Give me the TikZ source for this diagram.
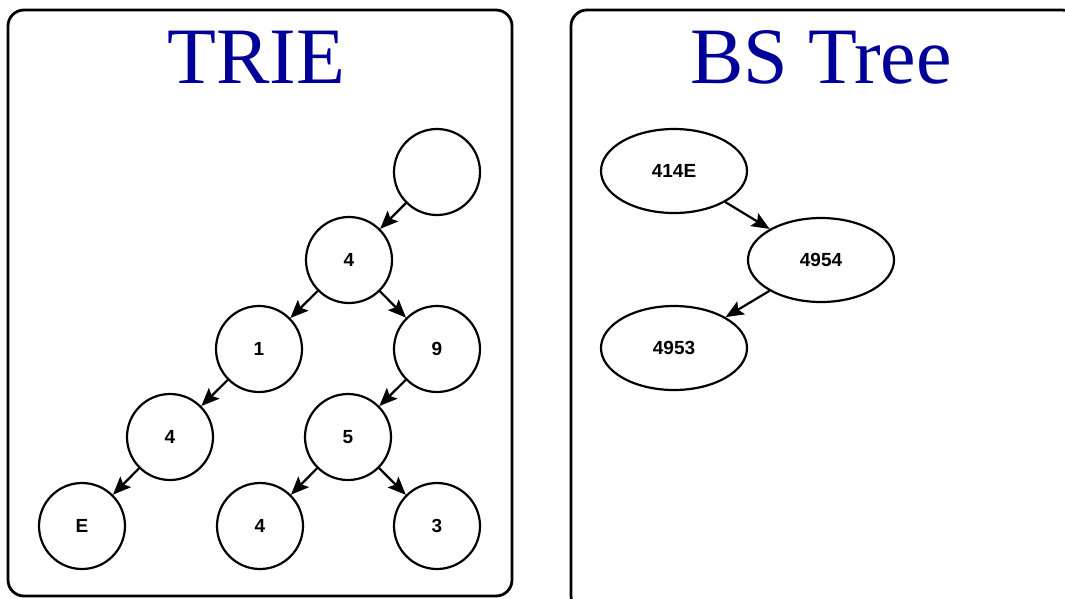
\documentclass[tikz,border=0pt]{standalone}
\usepackage{fontspec}
\setmainfont{Liberation Serif}
\newfontfamily\labelfont{Liberation Sans}
\usetikzlibrary{arrows.meta,shapes.geometric}
\definecolor{titleblue}{RGB}{0,0,153}
\begin{document}
\begin{tikzpicture}[x=1pt,y=-1pt,
  panel/.style={draw=black,line width=2.8pt,rounded corners=16pt},
  heading/.style={text=titleblue,font=\fontsize{80}{80}\selectfont,anchor=base,inner sep=0pt},
  trienode/.style={circle,draw=black,line width=2.2pt,minimum size=86pt,inner sep=0pt,
    font=\labelfont\bfseries\fontsize{19}{19}\selectfont},
  bsnode/.style={ellipse,draw=black,line width=2.2pt,minimum width=146pt,minimum height=84pt,inner sep=0pt,
    font=\labelfont\bfseries\fontsize{19}{19}\selectfont},
  link/.style={draw=black,line width=2.2pt,-{Stealth[length=18pt,width=15pt,inset=3.5pt]}}]
  \clip (0,0) rectangle (1065,598);
  % frames
  \draw[panel] (8,10) rectangle (512,596);
  \draw[panel] (571,10) rectangle (1078,612);
  \node[heading] (t1) at (256,83) {TRIE};
  \node[heading] (t2) at (821,83) {BS Tree};
  % trie
  \node[trienode] (root) at (437,172) {};
  \node[trienode] (n4)   at (349,260) {4};
  \node[trienode] (n1)   at (259,349) {1};
  \node[trienode] (n9)   at (437,349) {9};
  \node[trienode] (n14)  at (170,437) {4};
  \node[trienode] (n95)  at (348,437) {5};
  \node[trienode] (nE)   at (82,526)  {E};
  \node[trienode] (n954) at (260,526) {4};
  \node[trienode] (n953) at (437,526) {3};
  \draw[link] (root) -- (n4);
  \draw[link] (n4) -- (n1);
  \draw[link] (n4) -- (n9);
  \draw[link] (n1) -- (n14);
  \draw[link] (n9) -- (n95);
  \draw[link] (n14) -- (nE);
  \draw[link] (n95) -- (n954);
  \draw[link] (n95) -- (n953);
  % binary search tree
  \node[bsnode] (b1) at (674,171) {414E};
  \node[bsnode] (b2) at (821,260) {4954};
  \node[bsnode] (b3) at (674,348) {4953};
  \draw[link] (b1) -- (b2);
  \draw[link] (b2) -- (b3);
\end{tikzpicture}
\end{document}
